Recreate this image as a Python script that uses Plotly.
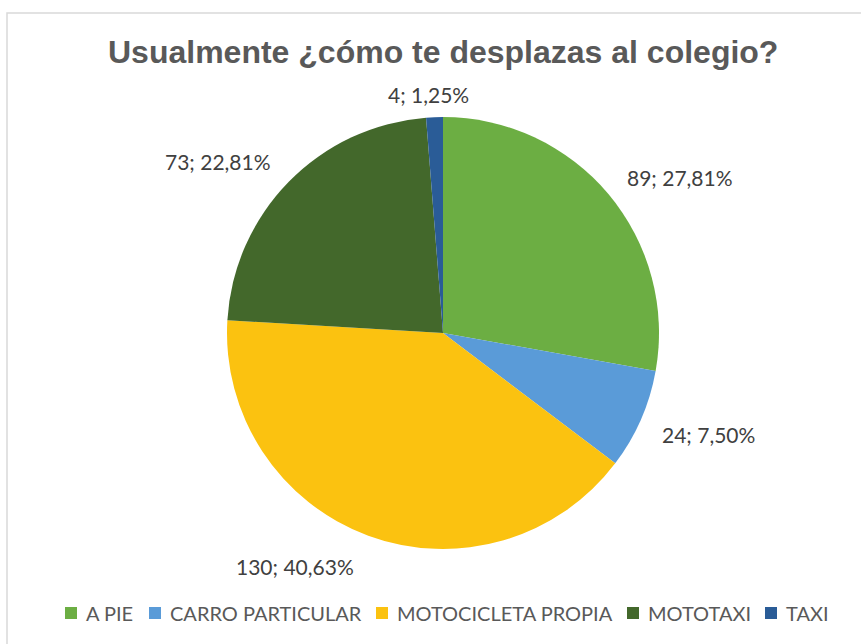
import plotly.graph_objects as go
from decimal import Decimal, ROUND_HALF_UP

# ---- data ----
categories = ["A PIE", "CARRO PARTICULAR", "MOTOCICLETA PROPIA", "MOTOTAXI", "TAXI"]
counts = [89, 24, 130, 73, 4]
colors = ["#6CAE43", "#5A9BD8", "#FBC210", "#43682B", "#2A5C97"]
title_text = "Usualmente ¿cómo te desplazas al colegio?"

# label anchor positions (pixels in the 861x644 canvas)
label_px = [(680, 177), (708, 434), (295, 566), (218, 162), (428, 95)]
# legend square x positions (pixels)
legend_sq_px = [65, 149, 376, 627, 765]
legend_y_px = 613

W, H = 861, 644
def px(x, y):
    return x / W, 1 - y / H

total = sum(counts)
def fmt(v):
    p = (Decimal(v) * 100 / Decimal(total)).quantize(Decimal("0.01"), rounding=ROUND_HALF_UP)
    return f"{v}; {str(p).replace('.', ',')}%"

# pie geometry: centre (443,333), radius 216
cx, cy, r = 443, 333, 216
x0, y1 = px(cx - r, cy - r)
x1, y0 = px(cx + r, cy + r)

fig = go.Figure(go.Pie(
    labels=categories,
    values=counts,
    sort=False,
    direction="clockwise",
    rotation=0,
    textinfo="none",
    hoverinfo="label+value+percent",
    marker=dict(colors=colors, line=dict(width=0)),
    domain=dict(x=[x0, x1], y=[y0, y1]),
    showlegend=False,
))

annotations = []
for v, (lx, ly) in zip(counts, label_px):
    ax, ay = px(lx, ly)
    annotations.append(dict(
        x=ax, y=ay, xref="paper", yref="paper", text=fmt(v), showarrow=False,
        xanchor="center", yanchor="middle",
        font=dict(family="Lato, Open Sans, sans-serif", size=21, color="#404040"),
    ))

tx, ty = px(443, 52)
annotations.append(dict(
    x=tx, y=ty, xref="paper", yref="paper", text="<b>" + title_text + "</b>",
    showarrow=False, xanchor="center", yanchor="middle",
    font=dict(family="Liberation Sans, Arial, sans-serif", size=32, color="#595959"),
))

shapes = []
bx0, by1 = px(7, 13)
bx1, by0 = px(870, 660)
shapes.append(dict(type="rect", xref="paper", yref="paper",
                   x0=bx0, y0=by0, x1=bx1, y1=by1,
                   line=dict(color="#D9D9D9", width=1.5), fillcolor="rgba(0,0,0,0)"))

# manual legend
sq = 12
for name, col, sx in zip(categories, colors, legend_sq_px):
    sx0, sy1 = px(sx, legend_y_px - sq / 2)
    sx1, sy0 = px(sx + sq, legend_y_px + sq / 2)
    shapes.append(dict(type="rect", xref="paper", yref="paper",
                       x0=sx0, y0=sy0, x1=sx1, y1=sy1,
                       line=dict(width=0), fillcolor=col))
    ax, ay = px(sx + sq + 7, legend_y_px)
    annotations.append(dict(
        x=ax, y=ay, xref="paper", yref="paper", text=name, showarrow=False,
        xanchor="left", yanchor="middle",
        font=dict(family="Lato, Open Sans, sans-serif", size=20, color="#595959"),
    ))

fig.update_layout(
    width=W, height=H,
    margin=dict(l=0, r=0, t=0, b=0),
    paper_bgcolor="white",
    plot_bgcolor="white",
    annotations=annotations,
    shapes=shapes,
    showlegend=False,
)

fig.write_html("out.html", config={"displayModeBar": False},
               post_script="document.body.style.margin='0';")
